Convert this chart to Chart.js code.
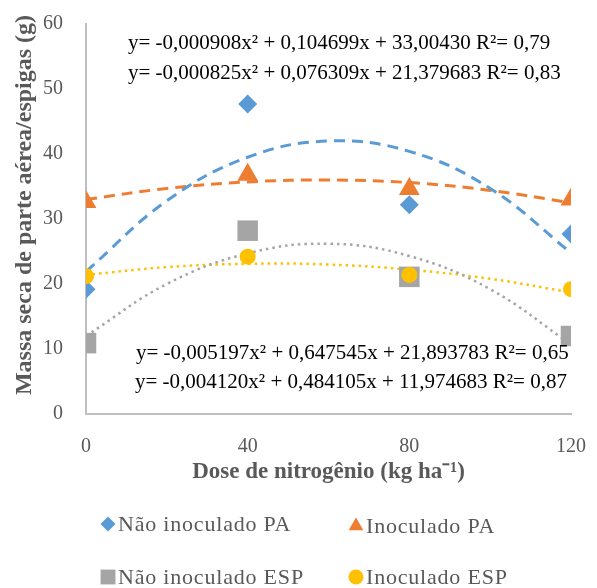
<!DOCTYPE html>
<html>
<head>
<meta charset="utf-8">
<script src="https://cdn.jsdelivr.net/npm/chart.js@4.4.1/dist/chart.umd.min.js"></script>
<style>
  html, body { margin: 0; padding: 0; background: #fff; }
  #wrap { width: 597px; height: 588px; }
</style>
</head>
<body>
<div id="wrap"><canvas id="massaChart" width="597" height="588"></canvas></div>
<script>
const doses = [0, 40, 80, 120];
const naoInoculadoPA = [19.2, 47.7, 32.2, 27.7];
const inoculadoPA = [32.6, 36.8, 34.6, 33.0];
const naoInoculadoESP = [10.9, 28.2, 21.1, 12.0];
const inoculadoESP = [21.2, 24.2, 21.4, 19.2];

// linhas de tendência, de 20 em 20
const dosesCurva = [0, 20, 40, 60, 80, 100, 120];
const curvaNaoInoculadoPA = [21.9, 32.8, 39.5, 42.0, 40.4, 34.7, 24.8];
const curvaInoculadoPA = [33.0, 34.7, 35.7, 36.0, 35.6, 34.4, 32.5];
const curvaNaoInoculadoESP = [12.0, 20.0, 24.7, 26.2, 24.3, 19.2, 10.7];
const curvaInoculadoESP = [21.4, 22.6, 23.1, 23.0, 22.2, 20.8, 18.7];

const legendas = ['Não inoculado PA', 'Inoculado PA', 'Não inoculado ESP', 'Inoculado ESP'];
const equacoesTopo = [
    'y= -0,000908x² + 0,104699x + 33,00430 R²= 0,79',
    'y= -0,000825x² + 0,076309x + 21,379683 R²= 0,83'
];
const equacoesBase = [
    'y= -0,005197x² + 0,647545x + 21,893783 R²= 0,65',
    'y= -0,004120x² + 0,484105x + 11,974683 R²= 0,87'
];

const azul = '#5B9BD5';
const laranja = '#ED7D31';
const cinza = '#A5A5A5';
const amarelo = '#FFC000';
const serif = '"Liberation Serif", "Times New Roman", serif';

function pares(xs, ys) {
    return xs.map((x, i) => ({ x: x, y: ys[i] }));
}

function pontos(label, ys, cor, estilo, raio, ordem) {
    return {
        label: label,
        data: pares(doses, ys),
        showLine: false,
        pointStyle: estilo,
        pointRadius: raio,
        pointHoverRadius: raio,
        pointBackgroundColor: cor,
        pointBorderColor: cor,
        pointBorderWidth: 0,
        order: ordem
    };
}

function curva(ys, cor, traco, largura) {
    return {
        label: '',
        data: pares(dosesCurva, ys),
        borderColor: cor,
        borderWidth: largura,
        borderDash: traco,
        borderCapStyle: 'butt',
        tension: 0.4,
        pointRadius: 0,
        fill: false,
        order: 10
    };
}

// textos das equações, título do eixo y e legenda
const extras = {
    id: 'extras',
    afterDraw(chart) {
        const ctx = chart.ctx;
        ctx.save();
        ctx.fillStyle = '#000';
        ctx.font = '21px ' + serif;
        ctx.textBaseline = 'middle';
        ctx.textAlign = 'left';
        ctx.fillText(equacoesTopo[0], 128, 43);
        ctx.fillText(equacoesTopo[1], 128, 73);
        ctx.fillText(equacoesBase[0], 136, 353);
        ctx.fillText(equacoesBase[1], 135, 382);

        ctx.fillStyle = '#595959';
        ctx.font = 'bold 24px ' + serif;
        ctx.translate(25, 205);
        ctx.rotate(-Math.PI / 2);
        ctx.textAlign = 'center';
        ctx.fillText('Massa seca de parte aérea/espigas (g)', 0, 0);
        ctx.restore();

        const itens = [
            { texto: legendas[0], cor: azul, estilo: 'rectRot', raio: 7.5, x: 108, y: 524 },
            { texto: legendas[1], cor: laranja, estilo: 'triangle', raio: 8.5, x: 356, y: 526 },
            { texto: legendas[2], cor: cinza, estilo: 'rect', raio: 10.5, x: 108, y: 577 },
            { texto: legendas[3], cor: amarelo, estilo: 'circle', raio: 7.5, x: 356, y: 577 }
        ];
        itens.forEach(it => {
            ctx.save();
            ctx.fillStyle = it.cor;
            ctx.strokeStyle = it.cor;
            Chart.helpers.drawPoint(ctx, { pointStyle: it.estilo, radius: it.raio, rotation: 0, borderWidth: 0 }, it.x, it.y);
            ctx.restore();
            ctx.save();
            ctx.font = '22px ' + serif;
            ctx.letterSpacing = '0.8px';
            ctx.textBaseline = 'middle';
            ctx.textAlign = 'left';
            ctx.fillStyle = '#595959';
            ctx.fillText(it.texto, it.x + 10, it.y + 1);
            ctx.restore();
        });
    }
};

new Chart(document.getElementById('massaChart'), {
    type: 'line',
    data: {
        datasets: [
            pontos(legendas[0], naoInoculadoPA, azul, 'rectRot', 9.5, 4),
            pontos(legendas[1], inoculadoPA, laranja, 'triangle', 12, 3),
            pontos(legendas[2], naoInoculadoESP, cinza, 'rect', 14.5, 2),
            pontos(legendas[3], inoculadoESP, amarelo, 'circle', 8, 1),
            curva(curvaNaoInoculadoPA, azul, [11, 7], 3),
            curva(curvaInoculadoPA, laranja, [11, 7], 3),
            curva(curvaNaoInoculadoESP, cinza, [2.5, 4], 2.5),
            curva(curvaInoculadoESP, amarelo, [2.5, 4], 2.5)
        ]
    },
    options: {
        responsive: false,
        animation: false,
        layout: { padding: { top: 24, right: 26, bottom: 98, left: 0 } },
        plugins: {
            legend: { display: false },
            tooltip: { enabled: false }
        },
        scales: {
            x: {
                type: 'linear',
                min: 0,
                max: 120,
                grid: { display: false },
                border: { display: true, color: '#BFBFBF', width: 2 },
                ticks: { stepSize: 40, color: '#595959', font: { family: serif, size: 20 }, padding: 13 },
                title: {
                    display: true,
                    text: 'Dose de nitrogênio (kg ha⁻¹)',
                    color: '#595959',
                    font: { family: serif, size: 23, weight: 'bold' },
                    padding: { top: 0, bottom: 4 }
                },
                afterFit(scale) {
                    scale.height = 76;
                    scale.paddingLeft = 0;
                    scale.paddingRight = 0;
                }
            },
            y: {
                min: 0,
                max: 60,
                grid: { display: false },
                border: { display: true, color: '#BFBFBF', width: 2 },
                ticks: { stepSize: 10, color: '#595959', font: { family: serif, size: 20 }, padding: 15 },
                afterFit(scale) {
                    scale.width = 86;
                    scale.paddingTop = 0;
                    scale.paddingBottom = 0;
                }
            }
        }
    },
    plugins: [extras]
});
</script>
</body>
</html>
